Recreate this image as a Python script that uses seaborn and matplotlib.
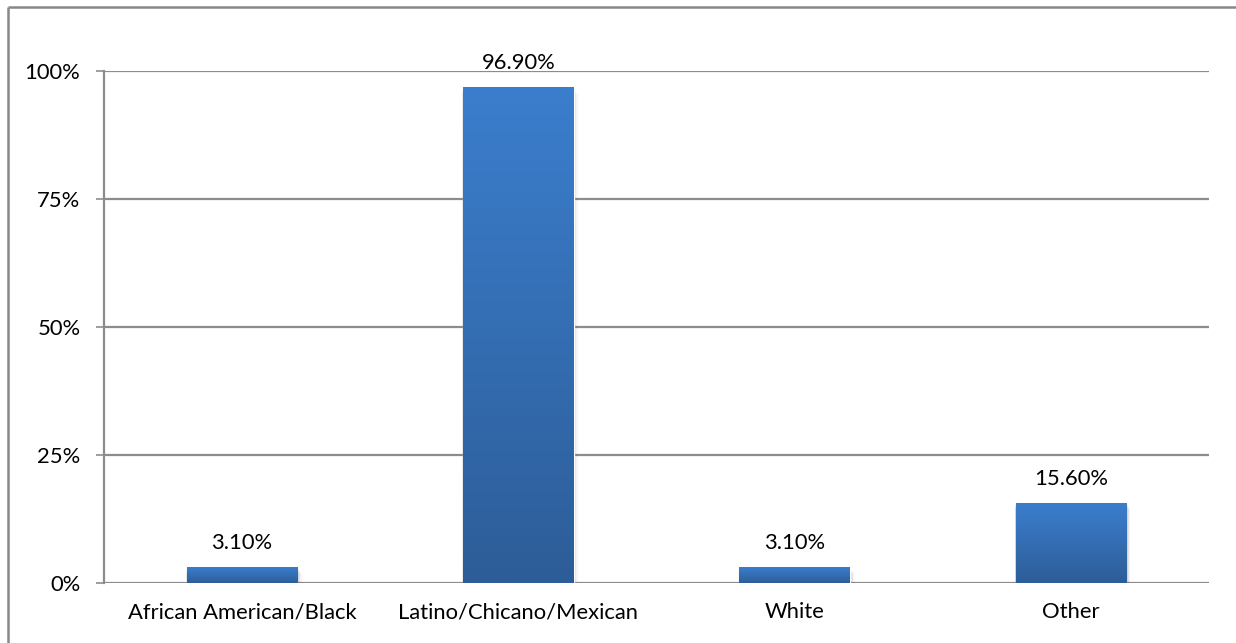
import numpy as np
import matplotlib
matplotlib.use("Agg")
import matplotlib.pyplot as plt
from matplotlib.patches import Rectangle
from matplotlib.colors import LinearSegmentedColormap
import matplotlib.ticker as mticker
import seaborn as sns
import pandas as pd

categories = ["African American/Black", "Latino/Chicano/Mexican", "White", "Other"]
values = [3.10, 96.90, 3.10, 15.60]
y_ticks = [0, 25, 50, 75, 100]

sns.set_theme(style="white")
plt.rcParams["font.family"] = ["Lato", "DejaVu Sans"]

W, H = 1236, 643
FS = 15.8
fig = plt.figure(figsize=(W / 100, H / 100), dpi=100)
fig.patch.set_linewidth(0)

# background layer in pixel units holding the outer chart frame (top and left edges)
bg = fig.add_axes([0, 0, 1, 1], zorder=-1)
bg.set_xlim(0, W)
bg.set_ylim(H, 0)
bg.axis("off")
bg.plot([8, W + 10], [7, 7], color="#888888", lw=1.8, solid_capstyle="butt")
bg.plot([8, 8], [7, H + 10], color="#888888", lw=1.8, solid_capstyle="butt")

ax = fig.add_axes([104 / W, 1 - 583 / H, (1209 - 104) / W, (583 - 71) / H])
ax.patch.set_alpha(0)

df = pd.DataFrame({"group": categories, "pct": values})
sns.barplot(data=df, x="group", y="pct", color="#3a7dcc", width=0.4,
            saturation=1, ax=ax, zorder=3)

ax.set_ylim(0, 100)
ax.set_xlim(-0.5, len(categories) - 0.5)
ax.set_yticks(y_ticks)
ax.yaxis.set_major_formatter(mticker.FuncFormatter(lambda v, _: f"{v:.0f}%"))
ax.set_xlabel("")
ax.set_ylabel("")

grid_col = "#8c8c8c"
for t in y_ticks:
    ax.axhline(t, color=grid_col, lw=1.6, zorder=1)
for s in ["top", "right", "bottom"]:
    ax.spines[s].set_visible(False)
ax.spines["left"].set_color(grid_col)
ax.spines["left"].set_linewidth(1.6)
ax.tick_params(axis="y", length=6, width=1.2, color=grid_col, pad=11,
               labelsize=FS, labelcolor="black", left=True)
ax.tick_params(axis="x", length=0, pad=14, labelsize=FS, labelcolor="black")

# vertical gradient fill with a soft drop shadow for each bar
cmap = LinearSegmentedColormap.from_list("bar", ["#2d5d98", "#3b7ecd"])
grad = np.linspace(0, 1, 256).reshape(-1, 1)
for p, v in zip(ax.patches, values):
    x0, w, h = p.get_x(), p.get_width(), p.get_height()
    for k, a in enumerate([0.10, 0.07, 0.04]):
        dx = 0.004 * (k + 1)
        sh = Rectangle((x0 - dx * 0.3, -1.0 - k * 0.4), w + dx * 1.6, h + 0.6,
                       facecolor="#000000", alpha=a, edgecolor="none", zorder=2)
        ax.add_patch(sh)
    im = ax.imshow(grad, cmap=cmap, aspect="auto", origin="lower",
                   extent=[x0, x0 + w, 0, h], zorder=4)
    im.set_clip_path(p)
    ax.annotate(f"{v:.2f}%", (x0 + w / 2, h), xytext=(0, 10),
                textcoords="offset points", ha="center", va="bottom",
                fontsize=FS, color="black", zorder=5)

ax.set_xlim(-0.5, len(categories) - 0.5)
ax.set_ylim(0, 100)

fig.savefig("out.png", dpi=100, facecolor="white")
